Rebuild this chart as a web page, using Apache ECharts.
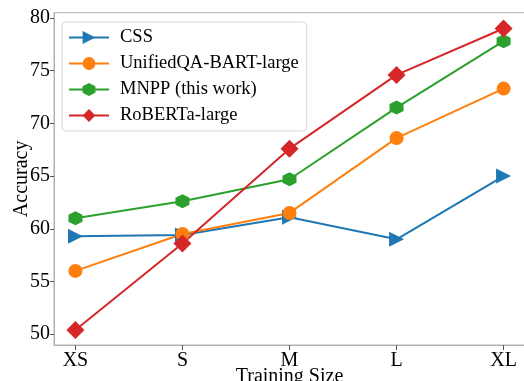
<!DOCTYPE html>
<html><head><meta charset="utf-8">
<script src="https://cdn.jsdelivr.net/npm/echarts@6/dist/echarts.min.js"></script>
<style>html,body{margin:0;padding:0;background:#fff}#c{width:524px;height:381px}</style>
</head><body><div id="c"></div>
<script>
var categories = ['XS', 'S', 'M', 'L', 'XL'];
var cssVals = [59.3, 59.4, 61.1, 59.0, 65.0];
var unifiedVals = [56.0, 59.5, 61.5, 68.6, 73.3];
var mnppVals = [61.0, 62.6, 64.7, 71.5, 77.8];
var robertaVals = [50.4, 58.6, 67.6, 74.6, 79.0];
var yTicks = [50, 55, 60, 65, 70, 75, 80];

var hex = 'path://M0,-1L0.866,-0.5L0.866,0.5L0,1L-0.866,0.5L-0.866,-0.5Z';
function pts(v){ return v.map(function(y,i){return [i,y];}); }
var font = 'Liberation Serif';
function mk(name, data, color, symbol, size, rot){
  return {name:name, type:'line', data:pts(data), symbol:symbol, symbolSize:size, symbolRotate:rot||0,
    lineStyle:{color:color,width:2}, itemStyle:{color:color}, showSymbol:true, animation:false, z:2};
}
var chart = echarts.init(document.getElementById('c'));
chart.setOption({
  animation:false,
  grid:{left:54, top:12.7, width:471, height:332.3, show:true, borderColor:'#b0b0b0', borderWidth:1,
    containLabel:false, outerBoundsMode:'none'},
  xAxis:{type:'value', min:-0.2, max:4.2, name:'Training Size', nameLocation:'middle', nameGap:22, nameMoveOverlap:false,
    nameTextStyle:{fontFamily:font, fontSize:20, color:'#000', verticalAlign:'top'},
    axisLine:{show:true, onZero:false, lineStyle:{color:'#b0b0b0'}},
    axisTick:{show:true, customValues:[0,1,2,3,4], length:5, lineStyle:{color:'#555'}},
    axisLabel:{customValues:[0,1,2,3,4], formatter:function(v){return categories[Math.round(v)];}, fontFamily:font, fontSize:20, color:'#000', margin:6},
    splitLine:{show:false}},
  yAxis:{type:'value', min:48.97, max:80.5, name:'Accuracy', nameLocation:'middle', nameGap:22, nameMoveOverlap:false,
    nameTextStyle:{fontFamily:font, fontSize:20, color:'#000'},
    axisLine:{show:true, onZero:false, lineStyle:{color:'#b0b0b0'}},
    axisTick:{show:true, customValues:yTicks, length:4, lineStyle:{color:'#555'}},
    axisLabel:{customValues:yTicks, fontFamily:font, fontSize:20, color:'#000', margin:4},
    splitLine:{show:false}},
  legend:{left:62, top:22, orient:'vertical', itemWidth:40, itemHeight:16, itemGap:7, z:10,
    padding:[6,8,6,6], backgroundColor:'rgba(255,255,255,0.8)', borderColor:'#d8d8d8', borderWidth:1, borderRadius:4,
    textStyle:{fontFamily:font, fontSize:18.5, color:'#000', padding:[0,0,0,6]},
    data:['CSS','UnifiedQA-BART-large','MNPP (this work)','RoBERTa-large']},
  series:[
    mk('CSS', cssVals, '#1f77b4', 'triangle', 15, -90),
    mk('UnifiedQA-BART-large', unifiedVals, '#ff7f0e', 'circle', 14),
    mk('MNPP (this work)', mnppVals, '#2ca02c', hex, 14),
    mk('RoBERTa-large', robertaVals, '#d62728', 'diamond', [18,18])
  ]
});
</script></body></html>
